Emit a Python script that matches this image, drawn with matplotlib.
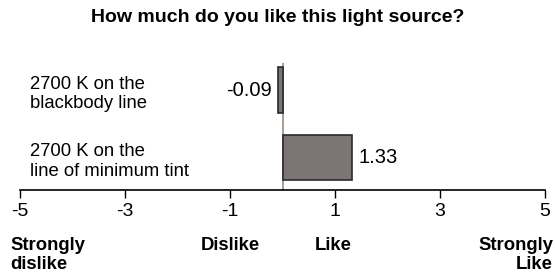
import matplotlib.pyplot as plt

plt.rcParams['font.family'] = ['Liberation Sans', 'DejaVu Sans']

categories = ["2700 K on the\nblackbody line", "2700 K on the\nline of minimum tint"]
values = [-0.09, 1.33]
value_labels = ["-0.09", "1.33"]
xticks = [-5, -3, -1, 1, 3, 5]
scale_labels = [(-5, "Strongly\ndislike", "left"), (-1, "Dislike", "center"),
                (1, "Like", "center"), (5, "Strongly\nLike", "right")]

W, H = 555, 275
fig = plt.figure(figsize=(W / 100, H / 100), dpi=100)
ax = fig.add_axes([20 / W, 1 - 190 / H, 525 / W, 127 / H])

ypos = [1, 0]
ax.barh(ypos, values, height=0.67, color="#7b7674", edgecolor="#2a2a2a", linewidth=1.2)
ax.axvline(0, color="#9b8b80", linewidth=1.2, zorder=0)

for y, v, lab in zip(ypos, values, value_labels):
    if v < 0:
        ax.text(v - 0.12, y, lab, ha="right", va="center", fontsize=14.5)
    else:
        ax.text(v + 0.12, y, lab, ha="left", va="center", fontsize=14.5)

for y, c in zip(ypos, categories):
    ax.text(0.019, y - 0.06, c, transform=ax.get_yaxis_transform(), ha="left",
            va="center", fontsize=13.3, linespacing=1.18)

ax.set_xlim(-5, 5)
ax.set_ylim(-0.48, 1.4)
ax.set_xticks(xticks)
ax.set_xticklabels([str(t) for t in xticks], fontsize=14)
ax.set_yticks([])
ax.tick_params(axis="x", direction="out", length=6, width=1, pad=3)
for s in ["top", "right", "left"]:
    ax.spines[s].set_visible(False)
ax.spines["bottom"].set_linewidth(1.2)

for x, lab, ha in scale_labels:
    xx = x
    if ha == "left":
        xx = x - 0.19
    elif ha == "right":
        xx = x + 0.15
    elif x == 1:
        xx = x - 0.03
    ax.text(xx, -0.48 - 47 / 67.5, lab, ha=ha, va="top", fontsize=13.3,
            fontweight="bold", linespacing=1.18, transform=ax.transData)

fig.text(0.5, 1 - 18 / H, "How much do you like this light source?", ha="center",
         va="center", fontsize=14, fontweight="bold")

fig.savefig("out.png", dpi=100)
